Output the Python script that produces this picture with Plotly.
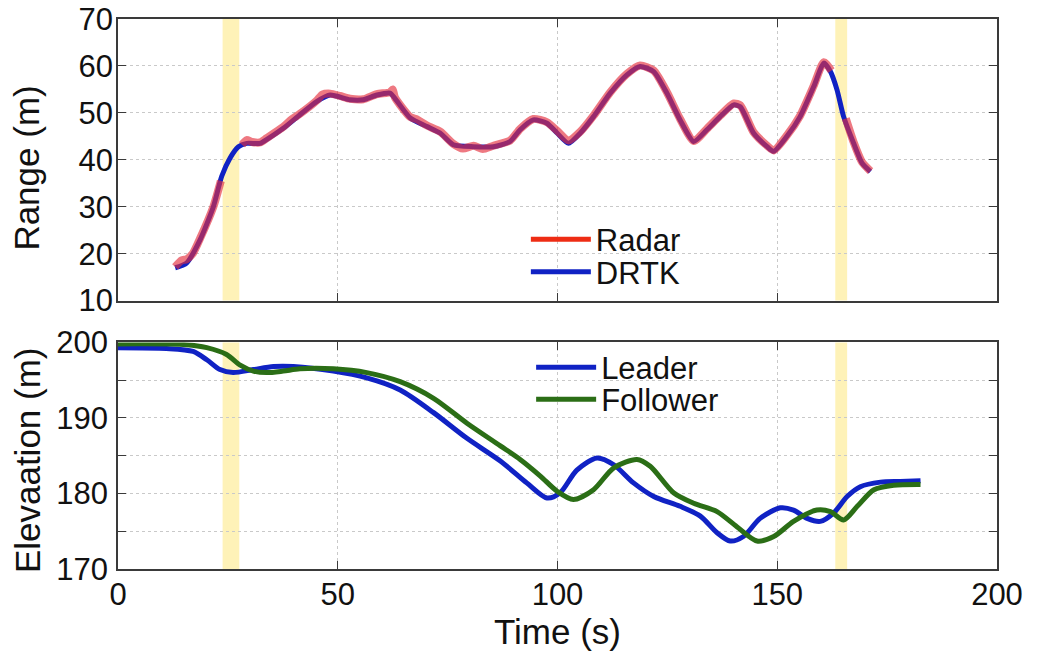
import plotly.graph_objects as go
from plotly.subplots import make_subplots

# ---------------- data ----------------
drtk_t = [13, 15.6, 18.7, 21.7, 23.6, 25.5, 27.4, 29.3, 32.3, 33.8, 37.6, 41.4, 45.2, 48.3,
          52.8, 55.8, 58.9, 61.9, 63, 66.5, 70.3, 73.3, 76.3, 80.9, 85.4, 89.2, 91.5, 94.5,
          97.6, 99.9, 102.5, 105.2, 108.2, 112, 115.8, 118.8, 121.9, 124.9, 127.9, 131, 134,
          137, 140.1, 141.6, 144.6, 147.7, 149.2, 152.2, 155.2, 158.3, 160.6, 162.1, 163.6,
          165.1, 167.4, 169.3, 171.2]
drtk_r = [17.0, 18.0, 23.0, 30.0, 36.5, 40.4, 42.8, 43.5, 43.5, 44.3, 46.7, 49.6, 52.4, 53.8,
          52.8, 52.8, 53.8, 54.2, 53.1, 48.9, 47.1, 45.7, 43.2, 42.8, 42.8, 43.9, 46.4, 48.5,
          47.8, 45.7, 43.5, 45.7, 49.2, 54.2, 58.1, 59.9, 58.8, 54.2, 48.5, 43.9, 46.4,
          49.2, 51.7, 51.3, 45.7, 42.8, 41.8, 45.0, 49.2, 55.6, 60.6, 58.8, 54.9,
          49.2, 43.5, 39.3, 37.5]

radar_t = [13, 14.5, 15.6, 17, 18.7, 21.7, 23.4, None, 28.2, 29.3, 30.5, 32.3, 33.8, 37.6, 39.5,
           41.4, 45.2, 46.5, 48.3, 50.5, 52.8, 55.8, 58.9, 61.9, 62.5, 63, 66.5, 68, 70.3, 73.3,
           76.3, 78.5, 80.9, 83, 85.4, 89.2, 91.5, 94.5, 97.6, 99.9, 102.5, 105.2, 108.2,
           112, 115.8, 118.8, 121.9, 124.9, 127.9, 131, 134, 137, 140.1, 141.6, 144.6,
           147.7, 149.2, 152.2, 155.2, 158.3, 160.6, 162.3, None, 165.6, 167.4, 169.3, 171.2]
radar_r = [17.2, 18.6, 18.8, 20.0, 23.3, 30.0, 35.5, None, 43.2, 44.2, 43.8, 43.7, 44.6, 47.0, 48.6,
           49.8, 52.6, 53.9, 54.1, 53.6, 53.0, 52.9, 54.0, 54.4, 55.0, 53.3, 49.1, 48.6, 47.3, 46.0,
           43.4, 42.4, 43.0, 42.3, 43.0, 44.1, 46.6, 48.7, 48.0, 46.2, 44.1, 46.0, 49.4,
           54.4, 58.3, 60.1, 59.0, 54.4, 48.7, 44.0, 46.6, 49.4, 52.0, 51.6, 45.9,
           43.0, 42.0, 45.2, 49.4, 55.8, 60.8, 59.0, None, 48.8, 43.7, 39.5, 37.6]

elev_leader_t = [0, 11, 17.1, 20.2, 23.2, 26.2, 30.8, 35.4, 39.9, 49, 56.6, 64.2, 71.8, 79.4,
                 87, 93, 97.6, 100.6, 104.4, 109, 112.8, 117.3, 121.9, 127.9, 132.5, 136.3,
                 139.3, 142.3, 146.1, 150.7, 153.7, 156.8, 159.8, 162.8, 165.9, 168.9, 173.5,
                 178, 182.6]
elev_leader = [199.3, 199.2, 198.8, 197.7, 196.4, 196.0, 196.4, 196.8, 196.8, 196.2, 195.3,
               193.7, 190.7, 187.3, 184.3, 181.4, 179.4, 180.1, 183.1, 184.7, 183.8, 181.4,
               179.6, 178.3, 177.0, 174.8, 173.7, 174.3, 176.7, 178.1, 177.8, 176.7, 176.3,
               177.4, 179.6, 180.9, 181.5, 181.6, 181.7]

elev_follower_t = [0, 15.6, 20.2, 24.7, 27.8, 30.8, 33.8, 37.6, 41.4, 49, 56.6, 64.2, 71.8,
                   79.4, 87, 91.5, 96.1, 99.9, 103.6, 108.2, 112.8, 118.1, 121.1, 126.4, 131,
                   136.3, 140.8, 145.4, 149.2, 153.7, 159, 162.1, 165.1, 168.2, 172, 176.5,
                   182.6]
elev_follower = [199.8, 199.7, 199.3, 198.4, 197.0, 196.2, 196.0, 196.2, 196.5, 196.5, 196.0,
                 194.8, 192.6, 189.3, 186.3, 184.5, 182.3, 180.3, 179.2, 180.5, 183.4, 184.5,
                 183.6, 180.1, 178.7, 177.6, 175.6, 173.7, 174.3, 176.3, 177.8, 177.6, 176.5,
                 178.3, 180.5, 181.1, 181.2]

band_intervals = [(23.8, 27.6), (163.2, 165.9)]

x_ticks = [0, 50, 100, 150, 200]
range_ticks = [10, 20, 30, 40, 50, 60, 70]
elev_ticks = [170, 175, 180, 185, 190, 195, 200]
elev_ticktext = ["170", "", "180", "", "190", "", "200"]

# ---------------- styles ----------------
FONT = "Liberation Sans, Arial, Helvetica, sans-serif"
TICK_FS = 31
TITLE_FS = 35
LEG_FS = 31
BLUE = "#1022c4"
RED = "#ee2c14"
GREEN = "#2b6e16"
BAND = "rgba(253,238,160,0.75)"
AXC = "#3a3a3a"
GRIDC = "#c9c9c9"
TXT = "#111111"

fig = make_subplots(rows=2, cols=1, shared_xaxes=False, vertical_spacing=0.08)

fig.add_trace(go.Scatter(x=drtk_t, y=drtk_r, mode="lines", name="DRTK",
                         line=dict(color=BLUE, width=5, shape="spline", smoothing=0.6),
                         legend="legend2"), row=1, col=1)
fig.add_trace(go.Scatter(x=radar_t, y=radar_r, mode="lines", name="Radar",
                         line=dict(color="rgba(228,45,60,0.64)", width=8, shape="spline", smoothing=0.6),
                         connectgaps=False, showlegend=False), row=1, col=1)
# legend proxy for Radar (solid red line as in the legend)
fig.add_trace(go.Scatter(x=[None], y=[None], mode="lines", name="Radar",
                         line=dict(color=RED, width=5), legend="legend"),
              row=1, col=1)

fig.add_trace(go.Scatter(x=elev_leader_t, y=elev_leader, mode="lines", name="Leader",
                         line=dict(color=BLUE, width=5, shape="spline", smoothing=0.8),
                         legend="legend3"), row=2, col=1)
fig.add_trace(go.Scatter(x=elev_follower_t, y=elev_follower, mode="lines", name="Follower",
                         line=dict(color=GREEN, width=5, shape="spline", smoothing=0.8),
                         legend="legend4"), row=2, col=1)

for (a, b) in band_intervals:
    fig.add_vrect(x0=a, x1=b, fillcolor=BAND, line_width=0, layer="below", row=1, col=1)
    fig.add_vrect(x0=a, x1=b, fillcolor=BAND, line_width=0, layer="below", row=2, col=1)

axis_common = dict(showline=True, linecolor=AXC, linewidth=1.5, mirror="ticks",
                   ticks="inside", ticklen=8, tickcolor=AXC, tickwidth=1.2,
                   showgrid=True, gridcolor=GRIDC, griddash="dot", gridwidth=1,
                   zeroline=False, automargin=False, ticklabeloverflow="allow",
                   tickfont=dict(family=FONT, size=TICK_FS, color=TXT))

fig.update_xaxes(**axis_common, range=[0, 200], tickvals=x_ticks)
fig.update_xaxes(showticklabels=False, row=1, col=1)
fig.update_xaxes(ticklabelstandoff=-3,
                 title=dict(text="Time (s)", font=dict(family=FONT, size=TITLE_FS, color=TXT),
                            standoff=8), row=2, col=1)
fig.update_yaxes(**axis_common)
fig.update_yaxes(range=[10, 70], tickvals=range_ticks, ticklabelstandoff=-3, row=1, col=1)
fig.update_yaxes(range=[170, 200], tickvals=elev_ticks, ticktext=elev_ticktext,
                 ticklabelstandoff=2, row=2, col=1)

# y-axis titles (placed as rotated annotations so both line up as in the reference)
fig.add_annotation(text="Range (m)", xref="paper", yref="paper", x=-0.1035, y=0.728,
                   xanchor="center", yanchor="middle", textangle=-90, showarrow=False,
                   font=dict(family=FONT, size=TITLE_FS, color=TXT))
fig.add_annotation(text="Elevaation (m)", xref="paper", yref="paper", x=-0.1035, y=0.198,
                   xanchor="center", yanchor="middle", textangle=-90, showarrow=False,
                   font=dict(family=FONT, size=TITLE_FS, color=TXT))

leg_common = dict(xref="paper", yref="paper", xanchor="left", yanchor="middle",
                  bgcolor="rgba(0,0,0,0)", borderwidth=0,
                  font=dict(family=FONT, size=LEG_FS, color=TXT), itemwidth=60)

fig.update_layout(
    width=1037, height=659,
    margin=dict(l=118, r=40, t=19, b=90),
    paper_bgcolor="white", plot_bgcolor="white",
    font=dict(family=FONT, size=TICK_FS, color=TXT),
    xaxis=dict(domain=[0, 1]), xaxis2=dict(domain=[0, 1]),
    yaxis=dict(domain=[0.488, 1.0]), yaxis2=dict(domain=[0.0, 0.412]),
    legend=dict(x=0.464, y=0.599, **leg_common),
    legend2=dict(x=0.464, y=0.540, **leg_common),
    legend3=dict(x=0.470, y=0.366, **leg_common),
    legend4=dict(x=0.470, y=0.308, **leg_common),
    showlegend=True,
)

fig.write_html("out.html", config={"displayModeBar": False},
               post_script="document.body.style.margin='0';")
